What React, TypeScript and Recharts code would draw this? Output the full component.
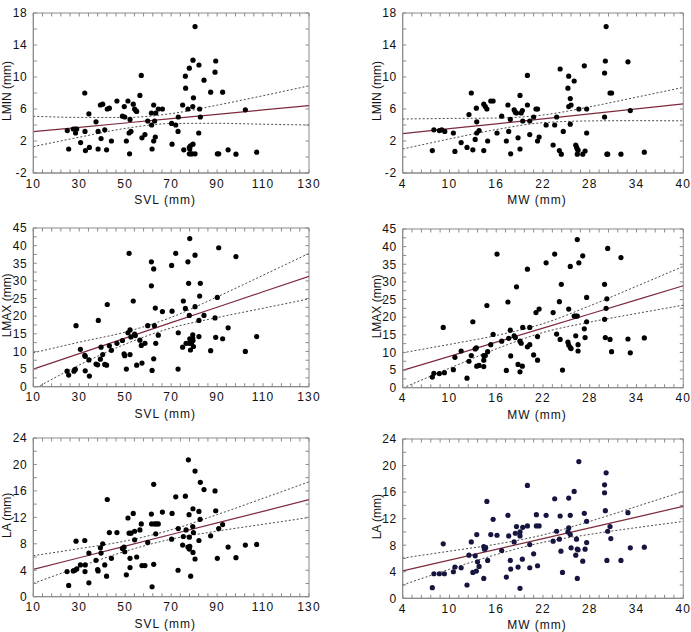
import React from "react";
import { ComposedChart, Scatter, Line, XAxis, YAxis, ReferenceArea } from "recharts";

const FONT = "'Liberation Sans', Arial, Helvetica, sans-serif";
const FRAME = "#8a8a8a";
const INK = "#111";
const FIT = "#7d2a3c";
const BAND = "#4a4a4a";

// tick labels (also the x positions of the fitted curves)
const svlTicks = [10, 30, 50, 70, 90, 110, 130];
const mwTicks = [4, 10, 16, 22, 28, 34, 40];
const lminTicks = [-2, 2, 6, 10, 14, 18];
const lmaxTicks = [0, 5, 10, 15, 20, 25, 30, 35, 40, 45];
const laTicks = [0, 4, 8, 12, 16, 20, 24];

// LMIN vs SVL
const lminSvl: [number, number][] = [
  [24.8, 3.3], [25.4, 1.0], [27.4, 3.5], [28.3, 3.5], [28.9, 3.5], [28.4, 3.0], [30.6, 1.8], [32.4, 8.0],
  [32.5, 3.2], [32.7, 0.8], [34.2, 5.4], [34.4, 1.2], [37.3, 4.4], [38.2, 3.2], [38.2, 1.0], [39.2, 6.5],
  [39.5, 2.3], [40.2, 6.6], [41.1, 3.4], [41.9, 0.9], [42.2, 6.0], [43.1, 6.1], [44.0, 2.0], [46.4, 7.0],
  [48.8, 5.1], [49.6, 6.3], [49.8, 5.0], [50.5, 2.0], [51.2, 7.0], [51.7, 3.0], [52.1, 4.7], [51.9, 0.4],
  [52.5, 3.2], [53.5, 6.6], [54.1, 6.0], [54.6, 5.8], [55.0, 5.7], [56.4, 7.7], [57.0, 10.2], [57.3, 2.4],
  [58.6, 2.8], [59.8, 4.5], [61.4, 5.5], [61.5, 4.0], [61.7, 1.0], [62.4, 6.5], [62.4, 2.0], [62.8, 4.5],
  [63.3, 5.5], [63.1, 2.5], [64.4, 6.0], [66.2, 6.0], [70.2, 4.2], [70.4, 1.6], [72.0, 4.0], [73.0, 3.2],
  [73.1, 5.0], [75.0, 6.5], [75.5, 0.9], [76.2, 10.1], [76.3, 8.6], [77.3, 6.0], [77.9, 11.1], [77.9, 1.2],
  [78.1, 1.0], [77.9, 0.4], [78.5, 0.4], [79.1, 0.4], [78.4, 1.4], [79.4, 6.3], [79.5, 12.1], [79.7, 7.4],
  [79.5, 1.6], [80.4, 0.4], [80.4, 16.3], [82.1, 11.5], [82.0, 3.0], [82.4, 6.0], [82.7, 5.0], [84.3, 9.6],
  [87.2, 8.1], [89.1, 10.6], [89.4, 12.0], [90.1, 0.4], [90.7, 0.4], [92.4, 8.1], [94.8, 0.9], [98.2, 0.35],
  [102.3, 5.9], [107.2, 0.6],
];
const lminSvlFit = [3.17, 3.71, 4.25, 4.8, 5.34, 5.88, 6.42];
const lminSvlUpper = [5.1, 4.95, 4.94, 5.42, 6.48, 7.66, 8.9];
const lminSvlLower = [1.3, 2.47, 3.57, 4.18, 4.21, 4.1, 4.0];

// LMIN vs MW
const lminMw: [number, number][] = [
  [7.8, 0.8], [8.0, 3.4], [8.7, 3.3], [9.0, 3.4], [9.4, 3.2], [10.5, 3.0], [10.7, 0.7], [11.5, 1.8],
  [12.25, 1.2], [12.5, 5.3], [12.8, 8.0], [13.0, 0.9], [13.3, 2.2], [13.45, 6.1], [13.5, 4.4], [13.5, 3.0],
  [13.8, 3.3], [14.4, 0.8], [14.4, 6.6], [14.6, 6.3], [14.8, 6.0], [14.9, 2.0], [15.3, 7.0], [15.6, 7.0],
  [16.1, 3.0], [16.7, 5.1], [17.3, 2.0], [17.5, 6.5], [17.6, 3.2], [17.8, 4.7], [17.85, 0.4], [18.3, 5.9],
  [18.45, 5.6], [18.6, 5.5], [18.8, 2.4], [19.05, 7.7], [19.05, 1.0], [19.2, 5.5], [19.35, 5.8], [19.4, 4.5],
  [20.0, 10.2], [20.0, 6.5], [20.3, 4.5], [20.3, 2.8], [20.8, 5.0], [21.1, 6.0], [21.3, 6.0], [21.3, 2.0],
  [21.5, 2.5], [22.4, 4.0], [23.3, 1.5], [23.5, 4.0], [23.75, 5.0], [24.2, 11.0], [24.1, 0.8], [24.35, 0.35],
  [24.6, 3.2], [25.2, 8.6], [25.3, 10.1], [25.3, 6.3], [25.5, 4.1], [25.5, 7.3], [25.6, 6.5], [26.0, 9.5],
  [26.2, 1.5], [26.3, 1.25], [26.4, 1.0], [26.5, 0.85], [26.4, 0.35], [26.6, 6.0], [27.1, 0.35], [27.3, 11.4],
  [27.4, 0.75], [27.6, 3.0], [27.6, 6.0], [29.9, 5.0], [29.9, 10.5], [30.0, 12.0], [30.1, 16.3], [30.2, 0.35],
  [30.3, 0.35], [30.6, 8.0], [30.8, 8.0], [32.0, 0.35], [32.9, 11.9], [33.2, 5.8], [35.0, 0.6],
];
const lminMwFit = [2.92, 3.54, 4.15, 4.77, 5.39, 6.01, 6.63];
const lminMwUpper = [4.75, 4.82, 4.87, 5.25, 6.27, 7.48, 8.7];
const lminMwLower = [1.0, 2.26, 3.43, 4.29, 4.51, 4.54, 4.52];

// LMAX vs SVL
const lmaxSvl: [number, number][] = [
  [24.7, 4.4], [25.4, 3.3], [27.7, 4.4], [28.3, 4.9], [28.6, 17.3], [30.5, 10.6], [32.4, 8.9], [32.6, 8.6],
  [32.6, 4.5], [34.2, 7.6], [34.4, 3.0], [37.3, 6.4], [38.0, 6.2], [38.3, 18.8], [39.2, 7.8], [39.5, 11.2],
  [40.2, 9.1], [41.1, 6.3], [41.9, 6.1], [42.2, 23.3], [43.1, 11.6], [44.0, 10.3], [46.4, 12.3], [48.8, 13.1],
  [49.5, 9.3], [49.8, 8.8], [50.5, 5.0], [51.2, 15.3], [51.7, 37.8], [52.1, 16.1], [52.1, 9.1], [52.5, 14.1],
  [53.5, 24.3], [54.1, 14.9], [54.4, 14.5], [55.0, 6.1], [56.4, 13.2], [57.0, 11.7], [57.3, 6.7], [58.6, 12.3],
  [59.8, 17.3], [61.4, 28.6], [61.4, 35.4], [61.7, 4.6], [62.4, 33.4], [62.4, 7.9], [62.7, 17.3], [63.1, 22.3],
  [63.3, 12.3], [64.4, 14.6], [66.2, 21.3], [70.2, 34.4], [70.4, 21.4], [72.0, 37.8], [73.0, 5.0], [73.1, 15.3],
  [75.0, 11.2], [75.3, 24.3], [76.2, 22.2], [76.5, 12.3], [77.3, 35.4], [77.6, 29.3], [77.8, 12.3], [77.9, 20.2],
  [78.1, 42.0], [78.1, 13.6], [78.4, 10.4], [78.8, 12.3], [79.4, 14.7], [79.4, 13.8], [79.7, 11.4], [79.5, 13.1],
  [80.4, 37.3], [80.4, 22.7], [82.1, 18.8], [82.1, 14.2], [82.4, 25.7], [82.7, 29.3], [84.3, 20.2], [87.2, 10.2],
  [89.1, 19.5], [89.4, 14.0], [90.1, 25.3], [90.7, 39.4], [92.4, 13.6], [94.8, 16.7], [98.2, 36.9], [102.3, 10.0],
  [107.2, 14.2],
];
const lmaxSvlFit = [5.0, 9.38, 13.77, 18.15, 22.53, 26.92, 31.3];
const lmaxSvlUpper = [9.6, 12.62, 15.48, 19.66, 25.46, 31.6, 37.8];
const lmaxSvlLower = [-0.8, 6.14, 12.06, 16.64, 19.6, 22.24, 24.9];

// LMAX vs MW
const lmaxMw: [number, number][] = [
  [7.8, 3.0], [8.0, 4.1], [8.7, 4.0], [9.2, 17.1], [9.35, 4.25], [10.5, 5.1], [10.7, 8.6], [11.5, 10.4],
  [12.25, 2.7], [12.5, 7.5], [12.8, 9.1], [13.0, 18.7], [13.3, 11.0], [13.45, 11.3], [13.5, 6.1], [13.8, 6.3],
  [14.4, 9.1], [14.4, 7.8], [14.4, 6.0], [14.6, 9.1], [14.8, 23.3], [14.9, 10.2], [15.3, 12.2], [15.6, 15.1],
  [16.1, 37.9], [16.7, 13.2], [17.3, 4.9], [17.5, 24.3], [17.6, 14.0], [17.8, 16.3], [17.85, 9.0], [18.3, 14.7],
  [18.45, 14.2], [18.6, 28.6], [18.8, 6.6], [19.05, 13.2], [19.05, 4.5], [19.2, 12.6], [19.35, 6.1], [19.4, 17.1],
  [20.0, 33.6], [20.0, 11.6], [20.3, 12.2], [20.3, 17.1], [20.8, 9.3], [21.1, 21.3], [21.3, 7.8], [21.3, 14.5],
  [21.5, 22.3], [22.4, 35.4], [23.3, 21.3], [23.5, 37.9], [23.75, 15.2], [24.1, 24.4], [24.2, 13.7], [24.35, 29.3],
  [24.5, 5.0], [25.3, 22.3], [25.2, 12.9], [25.3, 12.1], [25.5, 34.4], [25.5, 11.4], [25.6, 11.1], [26.0, 20.3],
  [26.2, 20.3], [26.2, 14.7], [26.4, 42.0], [26.4, 20.3], [26.5, 10.4], [26.5, 12.2], [26.6, 35.4], [27.1, 37.4],
  [27.3, 16.7], [27.4, 14.2], [27.6, 18.7], [27.6, 25.6], [29.9, 29.3], [29.9, 19.4], [30.0, 14.2], [30.1, 22.5],
  [30.2, 25.2], [30.3, 39.5], [30.6, 13.7], [30.8, 10.2], [32.0, 36.9], [32.9, 13.8], [33.2, 9.9], [35.0, 14.1],
];
const lmaxMwFit = [4.9, 8.9, 12.9, 16.9, 20.9, 24.9, 28.9];
const lmaxMwUpper = [9.9, 12.28, 14.8, 18.15, 23.21, 28.76, 34.4];
const lmaxMwLower = [-0.1, 5.52, 11.0, 15.65, 18.59, 21.04, 23.4];

// LA vs SVL
const laSvl: [number, number][] = [
  [24.7, 3.8], [25.4, 1.7], [27.4, 3.9], [28.1, 4.0], [28.6, 8.4], [28.9, 4.2], [30.5, 4.8], [32.4, 8.5],
  [32.5, 3.8], [32.6, 4.8], [34.2, 6.6], [34.2, 2.1], [37.3, 5.5], [38.0, 4.1], [38.2, 3.9], [39.2, 7.4],
  [39.5, 6.6], [40.2, 8.0], [41.1, 4.8], [41.9, 3.1], [42.2, 14.7], [43.1, 9.7], [44.0, 5.8], [46.4, 9.7],
  [48.8, 7.3], [49.5, 7.5], [49.8, 6.8], [50.5, 3.3], [51.2, 11.9], [51.7, 9.6], [52.1, 4.4], [52.1, 5.8],
  [52.5, 9.6], [53.5, 12.6], [54.1, 9.9], [54.1, 8.6], [55.0, 6.0], [56.4, 10.1], [57.0, 11.0], [57.3, 4.7],
  [58.6, 4.7], [59.8, 8.2], [61.4, 12.5], [61.5, 11.0], [61.7, 1.5], [62.4, 17.0], [62.4, 4.9], [62.8, 11.0],
  [63.3, 9.5], [63.6, 11.0], [64.4, 11.0], [66.2, 12.8], [70.2, 8.7], [70.4, 12.6], [72.0, 15.1], [73.0, 4.0],
  [73.1, 10.3], [75.0, 7.8], [75.3, 9.1], [76.2, 15.2], [76.5, 10.1], [77.3, 7.5], [77.5, 20.7], [77.8, 12.4],
  [77.9, 9.0], [77.9, 7.2], [78.1, 7.6], [78.5, 3.1], [79.4, 10.6], [79.5, 13.3], [79.5, 6.7], [79.7, 9.7],
  [80.4, 19.0], [80.4, 5.7], [82.1, 12.9], [82.1, 8.5], [82.6, 11.7], [82.7, 17.3], [84.3, 16.2], [87.2, 9.2],
  [89.1, 16.0], [89.4, 13.0], [90.1, 5.8], [90.7, 10.3], [92.4, 10.9], [94.8, 7.5], [98.2, 5.9], [102.3, 7.8],
  [107.2, 7.9],
];
const laSvlFit = [4.13, 5.89, 7.64, 9.4, 11.16, 12.91, 14.67];
const laSvlUpper = [6.2, 7.27, 8.42, 10.11, 12.41, 14.87, 17.37];
const laSvlLower = [2.0, 4.51, 6.86, 8.7, 9.91, 10.95, 11.97];

// LA vs MW
const laMw: [number, number][] = [
  [7.8, 1.6], [8.0, 3.7], [8.7, 3.7], [9.2, 8.2], [9.35, 3.7], [10.5, 4.0], [10.7, 4.7], [11.5, 4.6],
  [12.25, 2.0], [12.5, 6.5], [12.8, 8.5], [13.0, 3.9], [13.3, 6.4], [13.45, 4.1], [13.5, 9.6], [13.6, 5.5],
  [13.8, 4.8], [14.4, 7.8], [14.4, 3.0], [14.5, 7.4], [14.65, 7.6], [14.8, 14.6], [14.9, 5.7], [15.3, 9.6],
  [15.6, 11.9], [16.1, 9.5], [16.7, 7.2], [17.3, 3.2], [17.5, 12.5], [17.6, 9.4], [17.8, 5.7], [17.85, 4.4],
  [18.3, 8.5], [18.45, 9.8], [18.6, 10.8], [18.8, 4.7], [19.05, 10.0], [19.05, 9.4], [19.05, 1.5], [19.35, 5.9],
  [19.4, 10.7], [20.0, 17.0], [20.0, 10.9], [20.3, 8.1], [20.3, 4.6], [20.8, 6.7], [21.15, 12.6], [21.15, 10.9],
  [21.3, 4.9], [21.5, 10.9], [22.4, 12.5], [23.3, 8.6], [23.5, 15.0], [23.75, 10.1], [24.1, 8.9], [24.2, 12.4],
  [24.3, 7.1], [24.5, 3.9], [25.2, 10.0], [25.3, 15.1], [25.3, 10.6], [25.5, 12.5], [25.5, 9.6], [25.6, 7.6],
  [26.0, 16.1], [26.2, 6.5], [26.3, 8.9], [26.4, 7.4], [26.4, 3.0], [26.5, 7.3], [26.6, 20.6], [27.1, 5.6],
  [27.3, 12.8], [27.4, 7.4], [27.6, 8.4], [27.6, 11.6], [29.9, 15.9], [29.9, 17.1], [30.0, 13.2], [30.1, 18.9],
  [30.2, 5.7], [30.3, 10.1], [30.6, 10.8], [30.7, 9.0], [32.0, 5.7], [32.9, 12.9], [33.2, 7.6], [35.0, 7.7],
];
const laMwFit = [4.12, 5.74, 7.37, 8.99, 10.61, 12.24, 13.86];
const laMwUpper = [6.05, 7.1, 8.15, 9.55, 11.59, 13.83, 16.1];
const laMwLower = [2.0, 4.38, 6.59, 8.43, 9.63, 10.65, 11.58];

// minor tick positions along a frame edge
const steps = (lo: number, hi: number, step: number) => {
  const out: number[] = [];
  for (let v = lo; v <= hi + 1e-9; v += step) out.push(Math.round(v * 100) / 100);
  return out;
};

// bottom tick: inward mark on the bottom and top edge, label on majors only
const XTick = ({ x, y, payload, show, plotH }: any) => {
  const ay = y - 6;
  const v = payload.value;
  return (
    <g>
      <line x1={x} x2={x} y1={ay} y2={ay - 3.5} stroke={FRAME} />
      <line x1={x} x2={x} y1={ay - plotH} y2={ay - plotH + 3.5} stroke={FRAME} />
      {show.includes(v) && (
        <text x={x} y={y} dy="0.71em" textAnchor="middle" fontSize={12} letterSpacing={1.2}
          fill={INK} fontFamily={FONT}>
          {v}
        </text>
      )}
    </g>
  );
};

// left tick: inward mark on the left and right edge
const YTick = ({ x, y, payload, show, plotW }: any) => {
  const ax = x + 6;
  const v = payload.value;
  return (
    <g>
      <line x1={ax} x2={ax + 3.5} y1={y} y2={y} stroke={FRAME} />
      <line x1={ax + plotW} x2={ax + plotW - 3.5} y1={y} y2={y} stroke={FRAME} />
      {show.includes(v) && (
        <text x={x} y={y} dy="0.36em" textAnchor="end" fontSize={12} letterSpacing={0.6}
          fill={INK} fontFamily={FONT}>
          {v}
        </text>
      )}
    </g>
  );
};

const XLabel = ({ viewBox, value }: any) => {
  const { x, y, width } = viewBox;
  return (
    <text x={x + width / 2 - 6} y={y + 31} textAnchor="middle" fontSize={12} letterSpacing={1}
      fill={INK} fontFamily={FONT}>
      {value}
    </text>
  );
};

const YLabel = ({ viewBox, value }: any) => {
  const { x, y, width, height } = viewBox;
  const cx = x + width - 26;
  const cy = y + height / 2 - 2;
  return (
    <text x={cx} y={cy} transform={`rotate(-90 ${cx} ${cy})`} textAnchor="middle"
      dominantBaseline="central" fontSize={12} fill={INK} fontFamily={FONT}>
      {value}
    </text>
  );
};

type PanelProps = {
  left: number;
  pad: number;
  plot: [number, number, number, number];
  xDomain: [number, number];
  xTicks: number[];
  xStep: number;
  yDomain: [number, number];
  yTicks: number[];
  yStep: number;
  xName: string;
  yName: string;
  points: [number, number][];
  fit: number[];
  upper: number[];
  lower: number[];
  color: string;
};

function Panel(p: PanelProps) {
  const [x0, y0, x1, y1] = p.plot;
  const top = y0 - 13;
  const width = x1 - p.left + p.pad;
  const height = y1 - top + 37;
  const pts = p.points.map(([x, y]) => ({ x, y }));
  const curve = p.xTicks.map((x, i) => ({ x, fit: p.fit[i], upper: p.upper[i], lower: p.lower[i] }));
  const xMinor = steps(p.xDomain[0], p.xDomain[1], p.xStep);
  const yMinor = steps(p.yDomain[0], p.yDomain[1], p.yStep);
  const frame = { stroke: FRAME, strokeWidth: 1 };
  const dot = (s: any) => <circle cx={s.cx} cy={s.cy} r={2.6} fill={p.color} />;

  return (
    <div style={{ position: "absolute", left: p.left, top }}>
      <ComposedChart width={width} height={height} margin={{ top: 13, right: p.pad, bottom: 0, left: 0 }}>
        <XAxis type="number" dataKey="x" domain={p.xDomain} allowDataOverflow ticks={xMinor} interval={0}
          height={37} axisLine={frame} tickLine={false} tickSize={0} tickMargin={6}
          tick={(t: any) => <XTick {...t} show={p.xTicks} plotH={y1 - y0} />}
          label={<XLabel value={p.xName} />} />
        <YAxis type="number" domain={p.yDomain} allowDataOverflow ticks={yMinor} interval={0}
          width={x0 - p.left} axisLine={frame} tickLine={false} tickSize={0} tickMargin={6}
          tick={(t: any) => <YTick {...t} show={p.yTicks} plotW={x1 - x0} />}
          label={<YLabel value={p.yName} />} />
        <ReferenceArea x1={p.xDomain[0]} x2={p.xDomain[1]} y1={p.yDomain[0]} y2={p.yDomain[1]}
          fill="none" fillOpacity={0} stroke={FRAME} strokeWidth={1} ifOverflow="visible" />
        <Line data={curve} dataKey="upper" type="monotone" stroke={BAND} strokeWidth={1}
          strokeDasharray="2 2" dot={false} activeDot={false} isAnimationActive={false} />
        <Line data={curve} dataKey="lower" type="monotone" stroke={BAND} strokeWidth={1}
          strokeDasharray="2 2" dot={false} activeDot={false} isAnimationActive={false} />
        <Line data={curve} dataKey="fit" type="linear" stroke={FIT} strokeWidth={1.2}
          dot={false} activeDot={false} isAnimationActive={false} />
        <Scatter data={pts} dataKey="y" shape={dot} isAnimationActive={false} />
      </ComposedChart>
    </div>
  );
}

export default function App() {
  const svl = { left: 0, pad: 12, xDomain: [10, 130] as [number, number], xTicks: svlTicks, xStep: 4, xName: "SVL (mm)" };
  const mw = { left: 340, pad: 7.5, xDomain: [4, 40] as [number, number], xTicks: mwTicks, xStep: 1.2, xName: "MW (mm)" };
  const lmin = { yDomain: [-2, 18] as [number, number], yTicks: lminTicks, yStep: 2, yName: "LMIN (mm)" };
  const lmax = { yDomain: [0, 45] as [number, number], yTicks: lmaxTicks, yStep: 2.5, yName: "LMAX (mm)" };
  const la = { yDomain: [0, 24] as [number, number], yTicks: laTicks, yStep: 2, yName: "LA (mm)" };

  return (
    <div style={{ position: "absolute", left: 0, top: 0, width: 691, height: 632, overflow: "hidden", background: "#fff" }}>
      <Panel {...svl} {...lmin} plot={[33.3, 12.7, 309, 172.7]} points={lminSvl}
        fit={lminSvlFit} upper={lminSvlUpper} lower={lminSvlLower} color="#000" />
      <Panel {...mw} {...lmin} plot={[402.7, 12.7, 683.3, 172.7]} points={lminMw}
        fit={lminMwFit} upper={lminMwUpper} lower={lminMwLower} color="#000" />
      <Panel {...svl} {...lmax} plot={[33.3, 228.3, 309, 387]} points={lmaxSvl}
        fit={lmaxSvlFit} upper={lmaxSvlUpper} lower={lmaxSvlLower} color="#000" />
      <Panel {...mw} {...lmax} plot={[402.7, 229, 683.3, 387.7]} points={lmaxMw}
        fit={lmaxMwFit} upper={lmaxMwUpper} lower={lmaxMwLower} color="#000" />
      <Panel {...svl} {...la} plot={[33.3, 438.3, 309, 597]} points={laSvl}
        fit={laSvlFit} upper={laSvlUpper} lower={laSvlLower} color="#000" />
      <Panel {...mw} {...la} plot={[402.7, 439, 683.3, 598.3]} points={laMw}
        fit={laMwFit} upper={laMwUpper} lower={laMwLower} color="#151540" />
    </div>
  );
}
